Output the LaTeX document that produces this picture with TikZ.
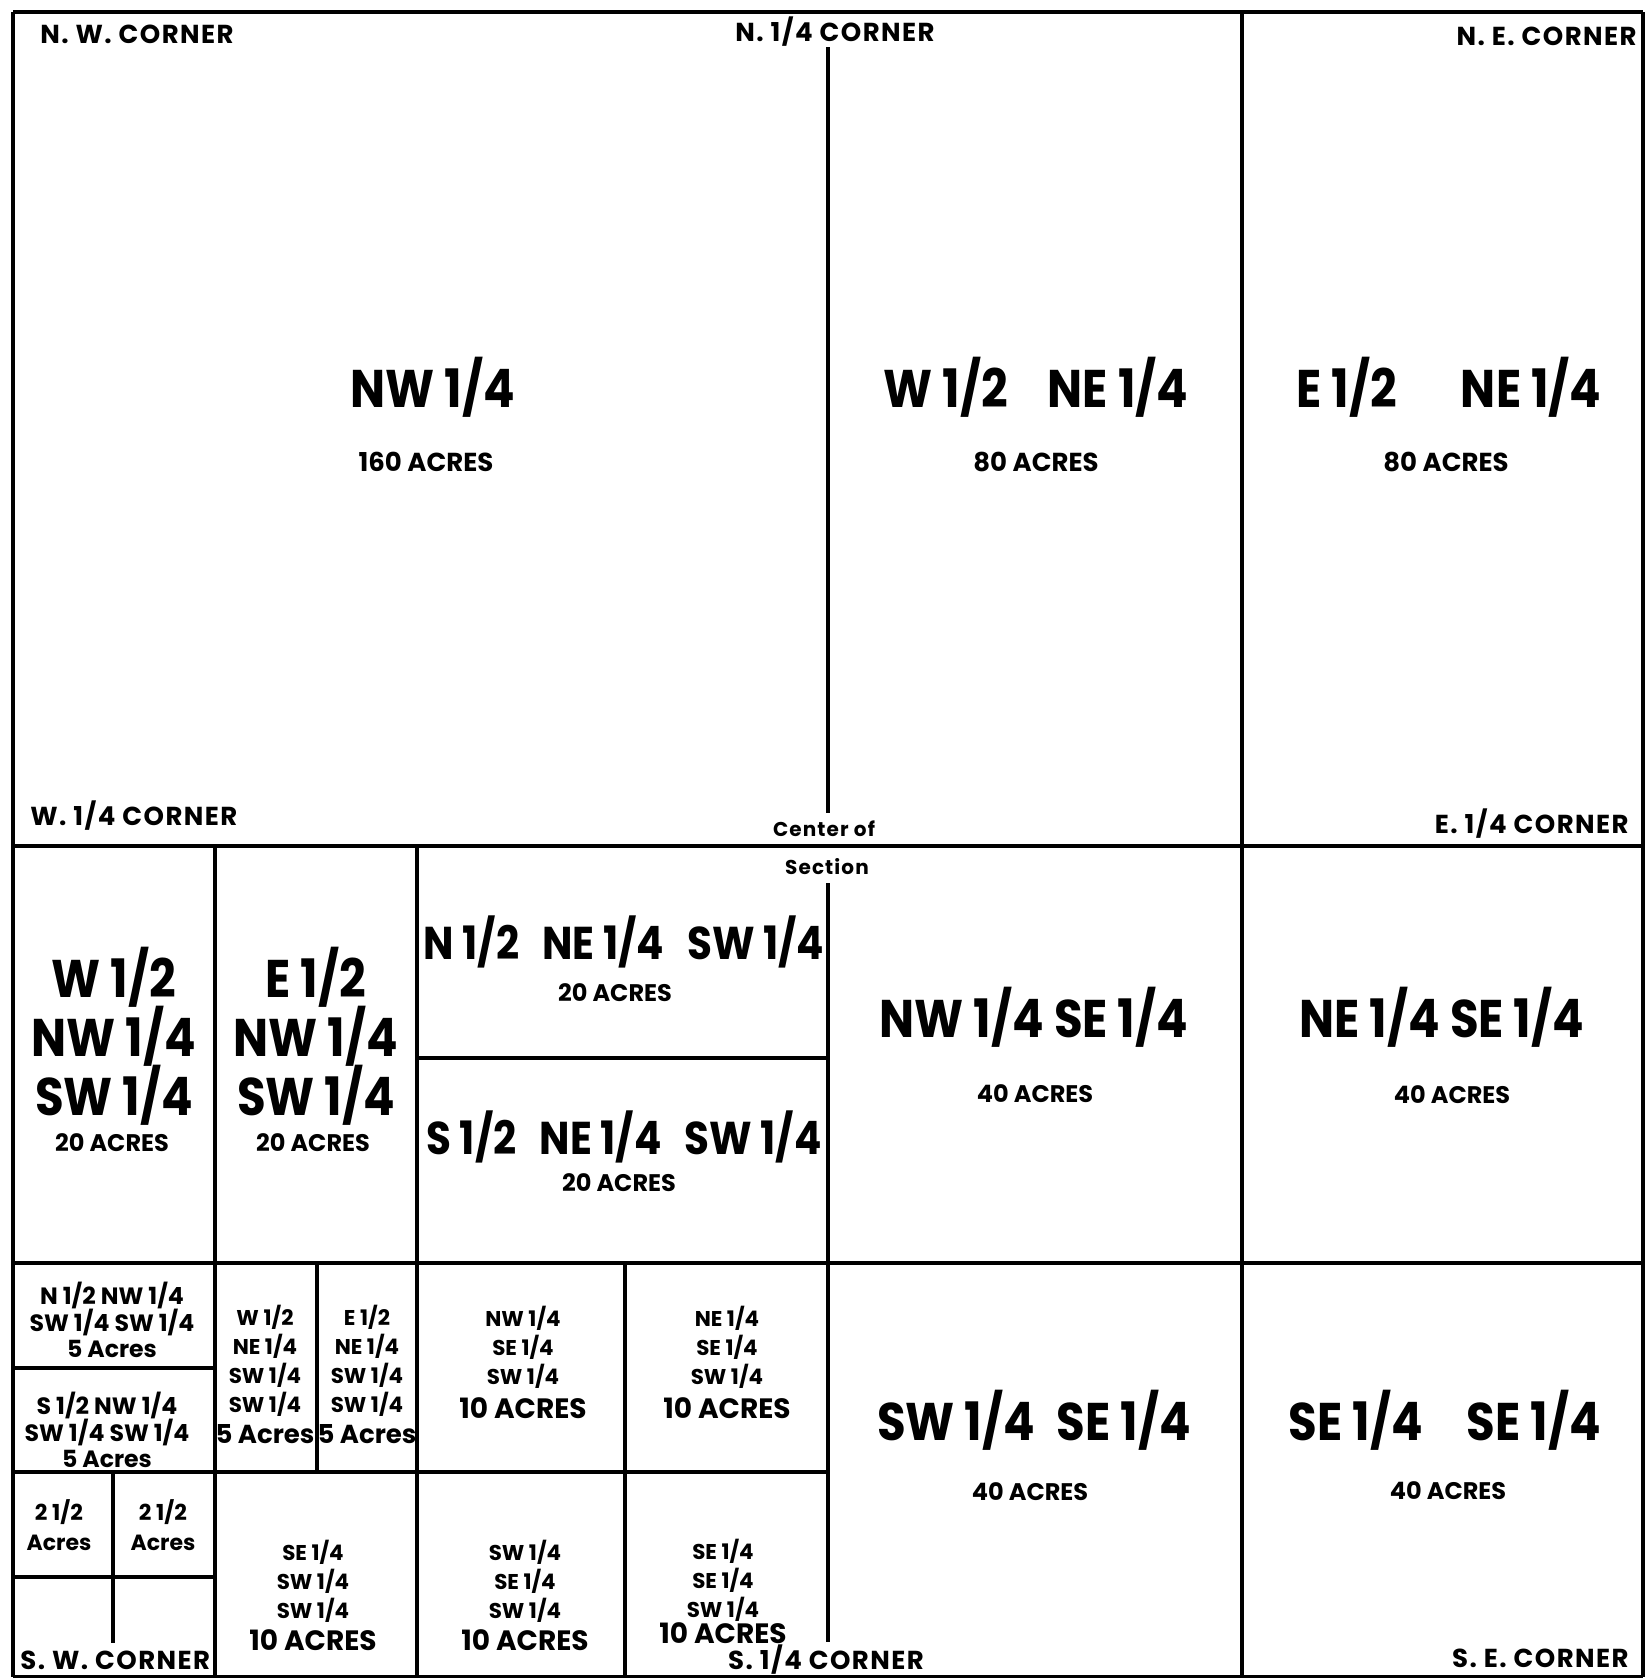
\documentclass[tikz,border=0pt]{standalone}
\usepackage{fontspec}
\setmainfont{Poppins}
\newfontfamily\bigfont{Poppins}[FakeStretch=0.88]
\newfontfamily\cornerfont{Poppins}[LetterSpace=5.5]
\usetikzlibrary{positioning}
\lineskiplimit=-100pt

\begin{document}
\begin{tikzpicture}[x=0.5pt,y=-0.5pt,
    divline/.style={line width=2pt,black},
    corner/.style={font=\cornerfont\fontsize{13}{15}\selectfont\bfseries,inner sep=0pt},
    huge/.style={font=\bigfont\fontsize{26.5}{29.4}\selectfont\bfseries,align=center,inner sep=0pt},
    mid/.style={font=\bigfont\fontsize{23}{26}\selectfont\bfseries,inner sep=0pt},
    acres/.style={font=\fontsize{13}{15}\selectfont\bfseries,inner sep=0pt},
    smacres/.style={font=\fontsize{12}{14}\selectfont\bfseries,inner sep=0pt},
    small/.style={font=\fontsize{11.8}{13.1}\selectfont\bfseries,align=center,inner sep=0pt},
    tiny/.style={font=\fontsize{10.7}{14.5}\selectfont\bfseries,align=center,inner sep=0pt},
    tenac/.style={font=\fontsize{14}{16}\selectfont\bfseries,inner sep=0pt}
  ]
    \useasboundingbox (0,0) rectangle (1646,1678);
    % section lines
    \foreach \xa/\ya/\xb/\yb in {13/12/1643/12,13/12/13/1677,1643/12/1643/1677,13/1677/1643/1677,
        13/846/1643/846,13/1263/1643/1263,828/47/828/813,828/883/828/1642,1242/12/1242/1677,
        215/846/215/1677,417/846/417/1677,417/1058/828/1058,625/1263/625/1677,317/1263/317/1472,
        13/1368/215/1368,13/1472/828/1472,13/1577/215/1577,113/1472/113/1643}
      \draw[divline](\xa,\ya)--(\xb,\yb);

    % corners
    \node[corner,anchor=west] (nwc) at (40,34) {N. W. CORNER};
    \node[corner] (nqc) at (835,32) {N. 1/4 CORNER};
    \node[corner,anchor=east] (nec) at (1637,36) {N. E. CORNER};
    \node[corner,anchor=west] (wqc) at (30,816) {W. 1/4 CORNER};
    \node[corner,anchor=east] (eqc) at (1629,824) {E. 1/4 CORNER};
    \node[corner,font=\cornerfont\fontsize{10}{12}\selectfont\bfseries] (ctr) at (824,829) {Center of};
    \node[corner,font=\cornerfont\fontsize{10}{12}\selectfont\bfseries] (sect) at (827,867) {Section};
    \node[corner,anchor=west] (swc) at (20,1660) {S. W. CORNER};
    \node[corner] (sqc) at (826,1660) {S. 1/4 CORNER};
    \node[corner,anchor=east] (sec) at (1629,1658) {S. E. CORNER};

    % north half
    \node[huge] (nw) at (433,387) {NW 1/4};
    \node[acres] (nwac) at (426,462) {160 ACRES};
    \node[huge] (wne) at (1036,387) {W 1/2\hspace{20pt}NE 1/4};
    \node[acres] (wneac) at (1036,462) {80 ACRES};
    \node[huge] (ene) at (1449,387) {E 1/2\hspace{32pt}NE 1/4};
    \node[acres] (eneac) at (1446,462) {80 ACRES};

    % middle band
    \node[huge] (wnwsw) at (114,1036) {W 1/2\\NW 1/4\\SW 1/4};
    \node[smacres] (wnwswac) at (112,1143) {20 ACRES};
    \node[huge] (enwsw) at (316,1036) {E 1/2\\NW 1/4\\SW 1/4};
    \node[smacres] (enwswac) at (313,1143) {20 ACRES};
    \node[mid] (nnesw) at (624,942) {N 1/2\enspace NE 1/4\enspace SW 1/4};
    \node[smacres] (nneswac) at (615,993) {20 ACRES};
    \node[mid] (snesw) at (624,1137) {S 1/2\enspace NE 1/4\enspace SW 1/4};
    \node[smacres] (sneswac) at (619,1183) {20 ACRES};
    \node[huge] (nwse) at (1034,1017) {NW 1/4 SE 1/4};
    \node[smacres] (nwseac) at (1035,1094) {40 ACRES};
    \node[huge] (nese) at (1442,1017) {NE 1/4 SE 1/4};
    \node[smacres] (neseac) at (1452,1095) {40 ACRES};

    % south band
    \node[small] (nnwswsw) at (112,1320) {N 1/2 NW 1/4\\SW 1/4 SW 1/4\\5 Acres};
    \node[small] (snwswsw) at (107,1430) {S 1/2 NW 1/4\\SW 1/4 SW 1/4\\5 Acres};
    \node[small,font=\fontsize{11}{15}\selectfont\bfseries] (halfa) at (59,1525) {2 1/2\\Acres};
    \node[small,font=\fontsize{11}{15}\selectfont\bfseries] (halfb) at (163,1525) {2 1/2\\Acres};
    \node[tiny] (wneswsw) at (265,1361) {W 1/2\\NE 1/4\\SW 1/4\\SW 1/4};
    \node[acres] (wneswswac) at (265,1434) {5 Acres};
    \node[tiny] (eneswsw) at (367,1361) {E 1/2\\NE 1/4\\SW 1/4\\SW 1/4};
    \node[acres] (eneswswac) at (367,1434) {5 Acres};
    \node[tiny] (sweswsw) at (313,1581) {SE 1/4\\SW 1/4\\SW 1/4};
    \node[tenac] (sweswswac) at (313,1640) {10 ACRES};
    \node[tiny] (nwsesw) at (523,1347) {NW 1/4\\SE 1/4\\SW 1/4};
    \node[tenac] (nwseswac) at (523,1408) {10 ACRES};
    \node[tiny] (nesesw) at (727,1347) {NE 1/4\\SE 1/4\\SW 1/4};
    \node[tenac] (neseswac) at (727,1408) {10 ACRES};
    \node[tiny] (swsesw) at (525,1581) {SW 1/4\\SE 1/4\\SW 1/4};
    \node[tenac] (swseswac) at (525,1640) {10 ACRES};
    \node[tiny] (sesesw) at (723,1580) {SE 1/4\\SE 1/4\\SW 1/4};
    \node[tenac] (seseswac) at (723,1633) {10 ACRES};
    \node[huge] (swse) at (1034,1420) {SW 1/4\hspace{11pt}SE 1/4};
    \node[smacres] (swseac) at (1030,1492) {40 ACRES};
    \node[huge] (sese) at (1445,1420) {SE 1/4\hspace{22pt}SE 1/4};
    \node[smacres] (seseac) at (1448,1491) {40 ACRES};
  \end{tikzpicture}
\end{document}
